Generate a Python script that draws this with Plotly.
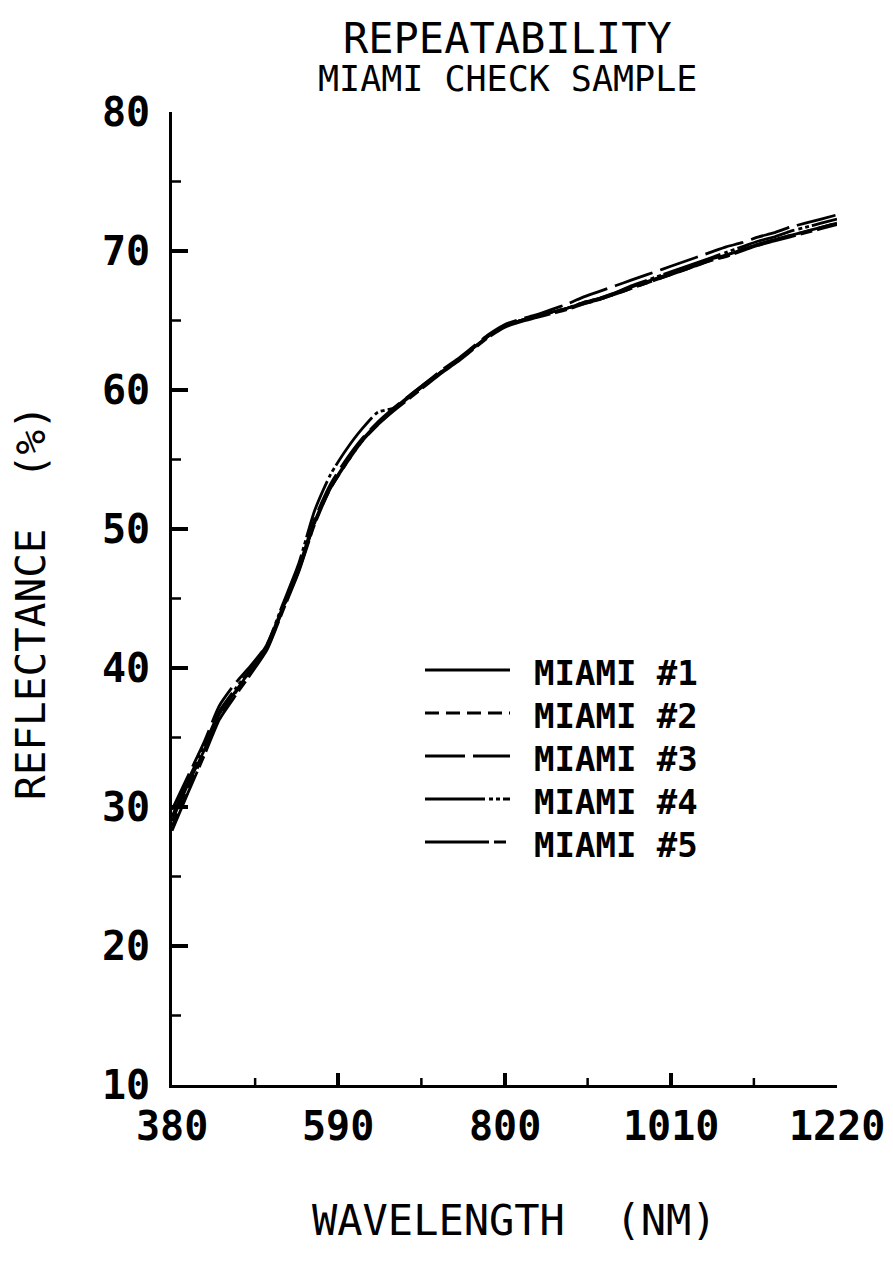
import plotly.graph_objects as go

# Wavelength grid (nm)
wavelength = list(range(380, 1221, 20))

# Reflectance (%) for the five repeat scans of the Miami check sample
miami_1 = [29.0, 31.6, 34.0, 36.7, 38.3, 39.9, 41.5, 44.3, 47.0, 50.5, 53.0, 54.8, 56.4, 57.6, 58.6,
           59.5, 60.4, 61.3, 62.1, 63.0, 63.9, 64.6, 65.0, 65.3, 65.6, 65.9, 66.3, 66.6, 67.0, 67.4,
           67.8, 68.2, 68.6, 69.0, 69.4, 69.7, 70.1, 70.5, 70.8, 71.1, 71.4, 71.7, 72.0]
miami_2 = [28.6, 31.3, 33.8, 36.5, 38.2, 39.8, 41.4, 44.2, 47.0, 50.4, 52.9, 54.7, 56.3, 57.5, 58.6,
           59.5, 60.4, 61.3, 62.1, 63.0, 63.9, 64.6, 65.0, 65.3, 65.6, 65.9, 66.2, 66.5, 66.9, 67.3,
           67.7, 68.1, 68.5, 68.9, 69.3, 69.7, 70.1, 70.4, 70.8, 71.1, 71.4, 71.7, 72.0]
miami_3 = [29.8, 32.2, 34.6, 37.3, 38.9, 40.2, 41.7, 44.4, 47.2, 50.7, 53.2, 55.0, 56.5, 57.7, 58.7,
           59.6, 60.5, 61.4, 62.2, 63.1, 64.0, 64.7, 65.1, 65.4, 65.8, 66.2, 66.7, 67.1, 67.5, 67.9,
           68.3, 68.7, 69.1, 69.5, 69.9, 70.3, 70.6, 71.0, 71.3, 71.7, 72.0, 72.3, 72.6]
miami_4 = [29.3, 31.9, 34.3, 36.9, 38.5, 40.0, 41.7, 44.6, 47.5, 51.3, 53.9, 55.7, 57.2, 58.4, 58.7,
           59.6, 60.5, 61.3, 62.1, 63.0, 63.9, 64.6, 65.0, 65.3, 65.6, 65.9, 66.3, 66.6, 67.0, 67.5,
           67.9, 68.3, 68.7, 69.1, 69.5, 69.9, 70.3, 70.7, 71.0, 71.4, 71.7, 72.0, 72.3]
miami_5 = [28.3, 31.0, 33.6, 36.3, 38.0, 39.6, 41.3, 44.1, 46.9, 50.3, 52.9, 54.7, 56.3, 57.5, 58.5,
           59.4, 60.3, 61.2, 62.0, 62.9, 63.8, 64.5, 64.9, 65.2, 65.5, 65.8, 66.2, 66.5, 66.9, 67.3,
           67.7, 68.1, 68.5, 68.9, 69.3, 69.6, 70.0, 70.4, 70.7, 71.0, 71.3, 71.6, 71.9]

series_names = ["MIAMI #1", "MIAMI #2", "MIAMI #3", "MIAMI #4", "MIAMI #5"]
series_values = [miami_1, miami_2, miami_3, miami_4, miami_5]

# tick labels on each axis
x_ticks = [380, 590, 800, 1010, 1220]
y_ticks = [10, 20, 30, 40, 50, 60, 70, 80]

# plotter pen styles for each scan
dashes = ["solid", "14px,7px", "40px,8px", "60px,4px,4px,3px,4px,3px", "64px,5px,12px,5px"]

FONT = "DejaVu Sans Mono"
W, H = 893, 1286
L, R, T, B = 172, 56, 112, 201
PW, PH = W - L - R, H - T - B


def px(xp):
    return (xp - L) / PW


def py(yp):
    return (H - B - yp) / PH


def midpoints(vals):
    return [(a + b) / 2 for a, b in zip(vals[:-1], vals[1:])]


fig = go.Figure()
for name, vals, dash in zip(series_names, series_values, dashes):
    fig.add_trace(go.Scatter(
        x=wavelength, y=vals, mode="lines", name=name,
        line=dict(color="black", width=2.8, dash=dash, shape="spline", smoothing=0.6),
        showlegend=False,
    ))

axis_common = dict(
    showline=True, linecolor="black", linewidth=3, mirror=False,
    showgrid=False, zeroline=False, ticks="inside", tickcolor="black", tickwidth=4,
    tickmode="array", showticklabels=False,
)

fig.update_xaxes(range=[x_ticks[0], x_ticks[-1]], tickvals=x_ticks, ticklen=12, **axis_common)
fig.update_yaxes(range=[y_ticks[0], y_ticks[-1]], tickvals=y_ticks, ticklen=16, **axis_common)

shapes = []
# half-step tick marks between the labelled ticks
for xv in midpoints(x_ticks):
    shapes.append(dict(type="line", xref="x", yref="paper", ysizemode="pixel", yanchor=0,
                       x0=xv, x1=xv, y0=0, y1=7, line=dict(color="black", width=2.5)))
for yv in midpoints(y_ticks):
    shapes.append(dict(type="line", xref="paper", yref="y", xsizemode="pixel", xanchor=0,
                       x0=0, x1=9, y0=yv, y1=yv, line=dict(color="black", width=2.5)))

tick_font = dict(family=FONT, size=40, color="black", weight="bold")
annotations = []
# tick labels set away from the axis lines
for xv in x_ticks:
    annotations.append(dict(text=str(xv), xref="x", yref="paper", x=xv, y=py(1126),
                            xanchor="center", yanchor="middle", showarrow=False, font=tick_font))
for yv in y_ticks:
    annotations.append(dict(text=str(yv), xref="paper", yref="y", x=px(152), y=yv,
                            xanchor="right", yanchor="middle", showarrow=False, font=tick_font))

titles = [
    dict(text="REPEATABILITY", x=px(507), y=py(38), font=dict(family=FONT, size=42)),
    dict(text="MIAMI CHECK SAMPLE", x=px(507), y=py(79), font=dict(family=FONT, size=35)),
    dict(text="REFLECTANCE  (%)", x=px(31), y=py(603), textangle=-90, font=dict(family=FONT, size=41)),
    dict(text="WAVELENGTH  (NM)", x=px(514), y=py(1220), font=dict(family=FONT, size=42)),
]

# legend drawn as pen samples with labels
row_y = [673, 716, 759, 802, 845]
for name, dash, yc in zip(series_names, dashes, row_y):
    shapes.append(dict(type="line", xref="paper", yref="paper",
                       x0=px(425), x1=px(510), y0=py(yc - 3), y1=py(yc - 3),
                       line=dict(color="black", width=3, dash=dash)))
    titles.append(dict(text=name, x=px(532), y=py(yc), xanchor="left",
                       font=dict(family=FONT, size=34, weight="bold")))

for a in titles:
    a.setdefault("xanchor", "center")
    a.update(xref="paper", yref="paper", yanchor="middle", showarrow=False)
    a["font"].setdefault("color", "black")
annotations += titles

fig.update_layout(
    width=W, height=H,
    margin=dict(l=L, r=R, t=T, b=B),
    paper_bgcolor="white", plot_bgcolor="white",
    annotations=annotations, shapes=shapes,
    showlegend=False,
)

fig.write_html("out.html")
